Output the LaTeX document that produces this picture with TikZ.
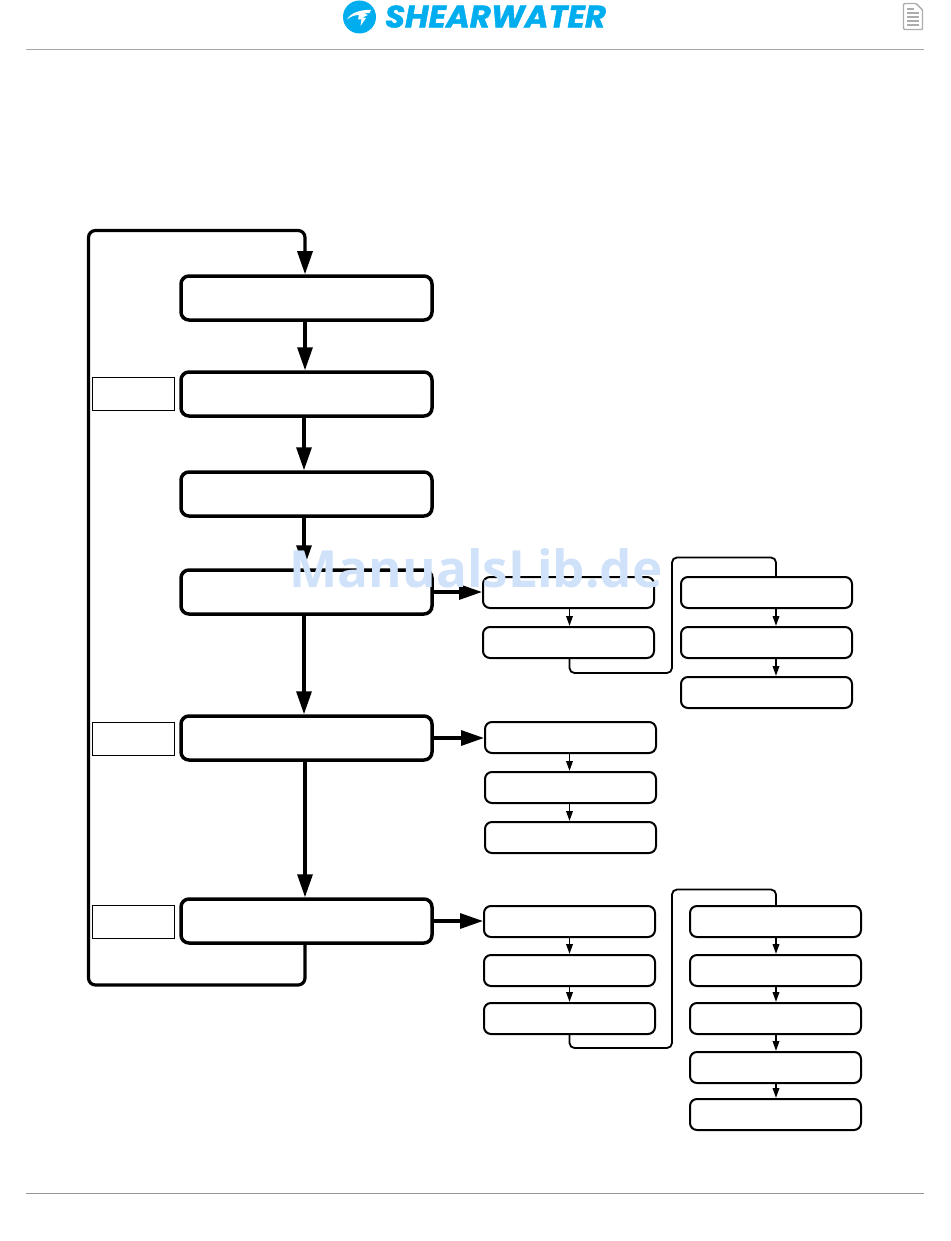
\documentclass[tikz,border=0pt]{standalone}
\usepackage{fontspec}
\usetikzlibrary{arrows.meta}
\newfontfamily\logofont{Poppins}[BoldItalicFeatures={FakeBold=1.4}]
\newfontfamily\markfont{Open Sans}
\definecolor{brandblue}{HTML}{00AEEF}
\definecolor{markblue}{HTML}{CFE2FA}
\tikzset{
  mainbox/.style={draw,line width=3.5pt,rounded corners=8pt,minimum width=251pt,minimum height=44pt},
  subbox/.style={draw,line width=2pt,rounded corners=7pt,minimum width=171pt,minimum height=31pt},
  tagbox/.style={draw,line width=1pt,minimum width=82pt,minimum height=33pt},
  mainline/.style={line width=3.2pt,-{Triangle[length=23pt,width=15pt]}},
  subline/.style={line width=1.8pt,-{Triangle[length=10pt,width=6.5pt]}},
  runline/.style={line width=1.8pt,rounded corners=5pt},
}
\begin{document}
\begin{tikzpicture}[x=1pt,y=-1pt]
  \useasboundingbox (0,0) rectangle (950,1241);
  % page furniture
  \draw[gray!70,line width=1pt] (26,49.5) -- (924,49.5);
  \draw[gray!85,line width=1.8pt] (26,1193.5) -- (924,1193.5);
  \fill[brandblue] (359.5,17) circle (16.5);
  \fill[white] (347,19.5) .. controls (351,12) and (362,9.5) .. (371,10) -- (369.5,13) -- (364,13.5) -- (368,15) -- (362.5,17.5) -- (366,18) -- (360.5,26) -- (361.5,19.5) -- (358,19.5) -- (359,15) .. controls (354,15) and (350,17) .. (347,19.5) -- cycle;
  \node[text=brandblue,inner sep=0pt,xscale=1.04] (brand) at (495.5,16.5) {\fontsize{31}{31}\logofont\bfseries\itshape SHEARWATER};
  \draw[gray!65,line width=1.4pt,line join=round,rounded corners=1pt] (903.5,3.5) -- (916,3.5) -- (922.5,10) -- (922.5,29.5) -- (903.5,29.5) -- cycle;
  \foreach \y in {13,17,21,25} \draw[gray!65,line width=1.5pt] (907,\y) -- (919,\y);
  \draw[gray!65,line width=1.5pt] (907,9) -- (914,9);
  % main column
  \foreach \name/\y in {start/298,second/394,third/494,fourth/592,fifth/738,sixth/921}
    \node[mainbox] (\name) at (306.5,\y) {};
  \foreach \y in {394,738.5,921.5} \node[tagbox] (tag\y) at (133.5,\y) {};
  \coordinate (spine) at (305,0);
  \coordinate (spinein) at (304,0);
  \draw[mainline] (spine |- start.south) -- (spine |- second.north);
  \foreach \a/\b in {second/third,third/fourth,fourth/fifth}
    \draw[mainline] (spinein |- \a.south) -- (spinein |- \b.north);
  \draw[mainline] (spine |- fifth.south) -- (spine |- sixth.north);
  \draw[mainline,rounded corners=7pt] (spine |- sixth.south) -- (305,985) -- (88.5,985) -- (88.5,230.5) -- (305,230.5) -- (spine |- start.north);
  % first branch
  \coordinate (leftrun) at (569.5,0);
  \coordinate (rightrun) at (776,0);
  \foreach \name/\y in {da/592.5,db/642.5} \node[subbox] (\name) at (568.5,\y) {};
  \foreach \name/\y in {dc/592.5,dd/642.5,de/692.5} \node[subbox] (\name) at (766.5,\y) {};
  \draw[mainline] (fourth.east) -- (fourth.east -| da.west);
  \draw[subline] (leftrun |- da.south) -- (leftrun |- db.north);
  \draw[runline] (leftrun |- db.south) -- (569.5,673) -- (672,673) -- (672,557.5) -- (776,557.5) -- (rightrun |- dc.north);
  \draw[subline] (rightrun |- dc.south) -- (rightrun |- dd.north);
  \draw[subline] (rightrun |- dd.south) -- (rightrun |- de.north);
  % second branch
  \foreach \name/\y in {ea/737.5,eb/787.5,ec/837.5} \node[subbox] (\name) at (570.5,\y) {};
  \draw[mainline] (fifth.east) -- (fifth.east -| ea.west);
  \draw[subline] (leftrun |- ea.south) -- (leftrun |- eb.north);
  \draw[subline] (leftrun |- eb.south) -- (leftrun |- ec.north);
  % third branch
  \foreach \name/\y in {fa/921.5,fb/970.5,fc/1018.5} \node[subbox] (\name) at (569.5,\y) {};
  \foreach \name/\y in {fd/921.5,fe/970.5,ff/1018.5,fg/1067.5,fh/1114.5} \node[subbox] (\name) at (775.5,\y) {};
  \draw[mainline] (sixth.east) -- (sixth.east -| fa.west);
  \draw[subline] (leftrun |- fa.south) -- (leftrun |- fb.north);
  \draw[subline] (leftrun |- fb.south) -- (leftrun |- fc.north);
  \draw[runline] (leftrun |- fc.south) -- (569.5,1048) -- (672,1048) -- (672,889.5) -- (776,889.5) -- (rightrun |- fd.north);
  \foreach \a/\b in {fd/fe,fe/ff,ff/fg,fg/fh}
    \draw[subline] (rightrun |- \a.south) -- (rightrun |- \b.north);
  % overprint
  \node[text=markblue,inner sep=0pt] (stamp) at (476,568) {\fontsize{51.2}{52}\markfont\bfseries ManualsLib.de};
\end{tikzpicture}
\end{document}
